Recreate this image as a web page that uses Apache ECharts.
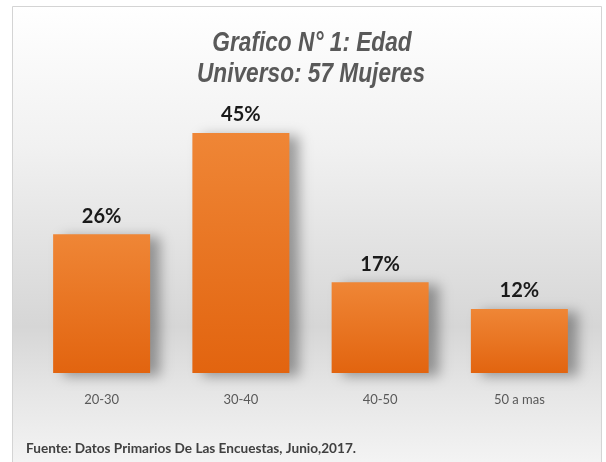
<!DOCTYPE html>
<html><head><meta charset="utf-8">
<script src="https://cdn.jsdelivr.net/npm/echarts@6/dist/echarts.min.js"></script>
<style>html,body{margin:0;padding:0;background:#fff}#c{width:606px;height:462px}</style>
</head><body><div id="c"></div>
<script>
const categories = ['20-30', '30-40', '40-50', '50 a mas'];
const values = [26, 45, 17, 12];
const titleLines = ['Grafico N° 1: Edad', 'Universo: 57 Mujeres'];
const footer = 'Fuente: Datos Primarios De Las Encuestas, Junio,2017.';

const titleFont = 'italic bold 28px "Liberation Sans", Arial, sans-serif';
const chart = echarts.init(document.getElementById('c'));
chart.setOption({
  backgroundColor: '#ffffff',
  animation: false,
  graphic: [
    { type: 'rect', z: -10, silent: true,
      shape: { x: 12.5, y: 6.5, width: 589, height: 470 },
      style: { stroke: '#d4d4d4', lineWidth: 1,
        fill: { type: 'linear', x: 0, y: 0, x2: 0, y2: 1, colorStops: [
          { offset: 0, color: '#ffffff' },
          { offset: 0.3, color: '#f1f1f1' },
          { offset: 0.68, color: '#d6d6d6' },
          { offset: 0.82, color: '#e6e6e6' },
          { offset: 1, color: '#f6f6f6' } ] } } },
    { type: 'text', x: 312, y: 43, scaleX: 0.81, z: 10,
      style: { text: titleLines[0], fill: '#595959', font: titleFont, textAlign: 'center', textVerticalAlign: 'middle' } },
    { type: 'text', x: 311, y: 74, scaleX: 0.81, z: 10,
      style: { text: titleLines[1], fill: '#595959', font: titleFont, textAlign: 'center', textVerticalAlign: 'middle' } },
    { type: 'text', left: 26, top: 442, z: 10,
      style: { text: footer, fill: '#404040', font: 'bold 13.6px Lato' } }
  ],
  grid: { left: 32, right: 17, top: 133, bottom: 89, containLabel: false },
  xAxis: {
    type: 'category', data: categories,
    axisLine: { show: false }, axisTick: { show: false },
    axisLabel: { color: '#595959', fontFamily: 'Lato', fontSize: 13, margin: 20 }
  },
  yAxis: { type: 'value', min: 0, max: 45, show: false, splitLine: { show: false } },
  series: [{
    type: 'bar', data: values, barWidth: 97,
    itemStyle: {
      color: { type: 'linear', x: 0, y: 0, x2: 0, y2: 1, colorStops: [
        { offset: 0, color: '#ef8636' }, { offset: 1, color: '#e2640f' } ] },
      shadowColor: 'rgba(0,0,0,0.35)', shadowBlur: 12, shadowOffsetX: 10, shadowOffsetY: 3
    },
    label: { show: true, position: 'top', distance: 8, formatter: '{c}%',
      fontFamily: 'Lato', fontWeight: 'bold', fontSize: 20, color: '#1a1a1a' }
  }]
});
</script></body></html>
